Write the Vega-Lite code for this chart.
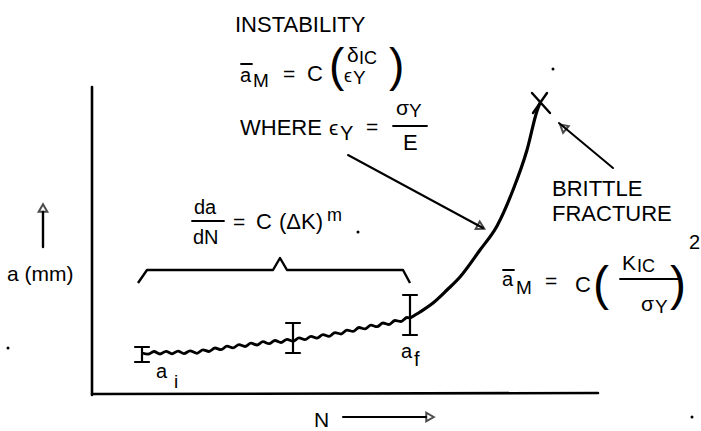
{
  "$schema": "https://vega.github.io/schema/vega-lite/v6.json",
  "width": 701,
  "height": 431,
  "padding": 0,
  "autosize": {"type": "fit", "contains": "padding"},
  "background": "white",
  "config": {"view": {"stroke": null}},
  "encoding": {
    "x": {"field": "x", "type": "quantitative", "scale": {"domain": [0, 701], "nice": false, "zero": false}, "axis": null},
    "y": {"field": "y", "type": "quantitative", "scale": {"domain": [0, 431], "nice": false, "zero": false, "reverse": true}, "axis": null}
  },
  "datasets": {
    "seg": [
      {"x": 92, "y": 87, "x2": 92, "y2": 395, "w": 2.6},
      {"x": 92, "y": 394, "x2": 598, "y2": 393, "w": 2.6},
      {"x": 43, "y": 247, "x2": 43, "y2": 212, "w": 2.4},
      {"x": 343, "y": 417, "x2": 426, "y2": 417, "w": 2.2},
      {"x": 142, "y": 347, "x2": 142, "y2": 362, "w": 2.2},
      {"x": 135, "y": 347, "x2": 149, "y2": 347, "w": 2.2},
      {"x": 135, "y": 362, "x2": 149, "y2": 362, "w": 2.2},
      {"x": 293, "y": 323, "x2": 293, "y2": 353, "w": 2.2},
      {"x": 286, "y": 323, "x2": 300, "y2": 323, "w": 2.2},
      {"x": 286, "y": 353, "x2": 300, "y2": 353, "w": 2.2},
      {"x": 410, "y": 295, "x2": 410, "y2": 335, "w": 2.2},
      {"x": 403, "y": 295, "x2": 417, "y2": 295, "w": 2.2},
      {"x": 403, "y": 335, "x2": 417, "y2": 335, "w": 2.2},
      {"x": 348, "y": 155, "x2": 483, "y2": 228, "w": 2},
      {"x": 613, "y": 168, "x2": 559, "y2": 123, "w": 2},
      {"x": 532, "y": 93, "x2": 550, "y2": 113, "w": 2.4},
      {"x": 547, "y": 93, "x2": 533, "y2": 113, "w": 2.4},
      {"x": 241, "y": 64, "x2": 252, "y2": 64, "w": 1.8},
      {"x": 503, "y": 270, "x2": 514, "y2": 270, "w": 1.8},
      {"x": 393, "y": 126, "x2": 427, "y2": 126, "w": 1.8},
      {"x": 192, "y": 221, "x2": 224, "y2": 221, "w": 1.8},
      {"x": 620, "y": 279, "x2": 680, "y2": 279, "w": 1.8}
    ],
    "brace": [
      {"i": 1, "x": 138, "y": 283},
      {"i": 2, "x": 147, "y": 270},
      {"i": 3, "x": 273, "y": 270},
      {"i": 4, "x": 280, "y": 258},
      {"i": 5, "x": 287, "y": 270},
      {"i": 6, "x": 403, "y": 270},
      {"i": 7, "x": 410, "y": 283}
    ],
    "wavy": [
      {"i": 1, "x": 142, "y": 353},
      {"i": 2, "x": 148, "y": 354.2},
      {"i": 3, "x": 154, "y": 351.5},
      {"i": 4, "x": 160, "y": 354},
      {"i": 5, "x": 166, "y": 351.3},
      {"i": 6, "x": 172, "y": 353.8},
      {"i": 7, "x": 178, "y": 351.1},
      {"i": 8, "x": 184, "y": 353.6},
      {"i": 9, "x": 190, "y": 350.9},
      {"i": 10, "x": 197, "y": 353.3},
      {"i": 11, "x": 203, "y": 349.8},
      {"i": 12, "x": 209, "y": 351.5},
      {"i": 13, "x": 215, "y": 348},
      {"i": 14, "x": 221, "y": 349.7},
      {"i": 15, "x": 227, "y": 346.2},
      {"i": 16, "x": 233, "y": 347.9},
      {"i": 17, "x": 239, "y": 344.6},
      {"i": 18, "x": 245, "y": 346.5},
      {"i": 19, "x": 251, "y": 343.2},
      {"i": 20, "x": 257, "y": 345},
      {"i": 21, "x": 263, "y": 341.7},
      {"i": 22, "x": 269, "y": 343.7},
      {"i": 23, "x": 275, "y": 340.5},
      {"i": 24, "x": 281, "y": 342.5},
      {"i": 25, "x": 287, "y": 339.3},
      {"i": 26, "x": 293, "y": 341.3},
      {"i": 27, "x": 299, "y": 337.9},
      {"i": 28, "x": 305, "y": 339.7},
      {"i": 29, "x": 311, "y": 336.3},
      {"i": 30, "x": 317, "y": 338.1},
      {"i": 31, "x": 323, "y": 334.6},
      {"i": 32, "x": 329, "y": 336.4},
      {"i": 33, "x": 335, "y": 332.6},
      {"i": 34, "x": 341, "y": 334},
      {"i": 35, "x": 347, "y": 330.1},
      {"i": 36, "x": 353, "y": 331.4},
      {"i": 37, "x": 359, "y": 327.5},
      {"i": 38, "x": 365, "y": 328.9},
      {"i": 39, "x": 371, "y": 325.2},
      {"i": 40, "x": 377, "y": 326.7},
      {"i": 41, "x": 383, "y": 323},
      {"i": 42, "x": 389, "y": 324.5},
      {"i": 43, "x": 395, "y": 320.5},
      {"i": 44, "x": 401, "y": 321.5},
      {"i": 45, "x": 407, "y": 317.5},
      {"i": 46, "x": 410, "y": 318}
    ],
    "smooth": [
      {"i": 1, "x": 410, "y": 318},
      {"i": 2, "x": 420, "y": 312},
      {"i": 3, "x": 433, "y": 303},
      {"i": 4, "x": 447, "y": 290},
      {"i": 5, "x": 460, "y": 277},
      {"i": 6, "x": 480, "y": 250},
      {"i": 7, "x": 497, "y": 226},
      {"i": 8, "x": 513, "y": 190},
      {"i": 9, "x": 527, "y": 150},
      {"i": 10, "x": 537, "y": 111},
      {"i": 11, "x": 540, "y": 103}
    ],
    "heads": [
      {"x": 43, "y": 208, "a": 0},
      {"x": 430, "y": 417, "a": 90},
      {"x": 481, "y": 227, "a": 118},
      {"x": 563, "y": 127, "a": 310}
    ],
    "dots": [
      {"x": 553, "y": 69},
      {"x": 692, "y": 417},
      {"x": 358, "y": 232},
      {"x": 8, "y": 348}
    ],
    "txt": [
      {"x": 235, "y": 32, "t": "INSTABILITY", "s": 22},
      {"x": 240, "y": 82, "t": "a", "s": 20},
      {"x": 253, "y": 87, "t": "M", "s": 19},
      {"x": 283, "y": 81, "t": "=", "s": 21},
      {"x": 307, "y": 81, "t": "C", "s": 22},
      {"x": 329, "y": 81, "t": "(", "s": 46},
      {"x": 389, "y": 81, "t": ")", "s": 46},
      {"x": 347, "y": 62, "t": "δ", "s": 21},
      {"x": 359, "y": 64, "t": "IC", "s": 18},
      {"x": 344, "y": 82, "t": "ϵ", "s": 18},
      {"x": 353, "y": 84, "t": "Y", "s": 19},
      {"x": 240, "y": 135, "t": "WHERE", "s": 22},
      {"x": 329, "y": 135, "t": "ϵ", "s": 21},
      {"x": 340, "y": 140, "t": "Y", "s": 20},
      {"x": 366, "y": 134, "t": "=", "s": 21},
      {"x": 396, "y": 115, "t": "σ", "s": 21},
      {"x": 409, "y": 117, "t": "Y", "s": 19},
      {"x": 403, "y": 150, "t": "E", "s": 22},
      {"x": 194, "y": 214, "t": "da", "s": 20},
      {"x": 193, "y": 244, "t": "dN", "s": 20},
      {"x": 233, "y": 229, "t": "=", "s": 21},
      {"x": 256, "y": 229, "t": "C", "s": 22},
      {"x": 279, "y": 229, "t": "(ΔK)", "s": 22},
      {"x": 327, "y": 221, "t": "m", "s": 18},
      {"x": 156, "y": 378, "t": "a", "s": 20},
      {"x": 174, "y": 388, "t": "i", "s": 19},
      {"x": 401, "y": 358, "t": "a", "s": 20},
      {"x": 414, "y": 366, "t": "f", "s": 20},
      {"x": 7, "y": 281, "t": "a (mm)", "s": 21},
      {"x": 314, "y": 427, "t": "N", "s": 21},
      {"x": 552, "y": 196, "t": "BRITTLE", "s": 22},
      {"x": 552, "y": 221, "t": "FRACTURE", "s": 22},
      {"x": 502, "y": 286, "t": "a", "s": 20},
      {"x": 516, "y": 294, "t": "M", "s": 19},
      {"x": 545, "y": 288, "t": "=", "s": 21},
      {"x": 575, "y": 292, "t": "C", "s": 22},
      {"x": 593, "y": 300, "t": "(", "s": 48},
      {"x": 670, "y": 300, "t": ")", "s": 48},
      {"x": 622, "y": 270, "t": "K", "s": 21},
      {"x": 637, "y": 272, "t": "IC", "s": 18},
      {"x": 641, "y": 311, "t": "σ", "s": 21},
      {"x": 655, "y": 313, "t": "Y", "s": 19},
      {"x": 689, "y": 249, "t": "2", "s": 20}
    ]
  },
  "layer": [
    {
      "data": {"name": "seg"},
      "mark": {"type": "rule", "color": "black", "strokeCap": "round"},
      "encoding": {
        "x2": {"field": "x2"},
        "y2": {"field": "y2"},
        "strokeWidth": {"field": "w", "type": "quantitative", "scale": null}
      }
    },
    {
      "data": {"name": "brace"},
      "mark": {"type": "line", "color": "black", "strokeWidth": 2.4, "strokeJoin": "round"},
      "encoding": {"order": {"field": "i", "type": "quantitative"}}
    },
    {
      "data": {"name": "wavy"},
      "mark": {"type": "line", "color": "black", "strokeWidth": 2.8, "interpolate": "monotone"},
      "encoding": {"order": {"field": "i", "type": "quantitative"}}
    },
    {
      "data": {"name": "smooth"},
      "mark": {"type": "line", "color": "black", "strokeWidth": 3.2, "interpolate": "monotone"},
      "encoding": {"order": {"field": "i", "type": "quantitative"}}
    },
    {
      "data": {"name": "heads"},
      "mark": {"type": "point", "shape": "triangle-up", "filled": false, "stroke": "black", "strokeWidth": 2, "size": 75},
      "encoding": {"angle": {"field": "a", "type": "quantitative", "scale": null}}
    },
    {
      "data": {"name": "dots"},
      "mark": {"type": "circle", "color": "black", "size": 9, "opacity": 1}
    },
    {
      "data": {"name": "txt"},
      "mark": {"type": "text", "align": "left", "baseline": "alphabetic", "font": "Liberation Sans", "color": "black"},
      "encoding": {
        "text": {"field": "t", "type": "nominal"},
        "size": {"field": "s", "type": "quantitative", "scale": null}
      }
    }
  ]
}
